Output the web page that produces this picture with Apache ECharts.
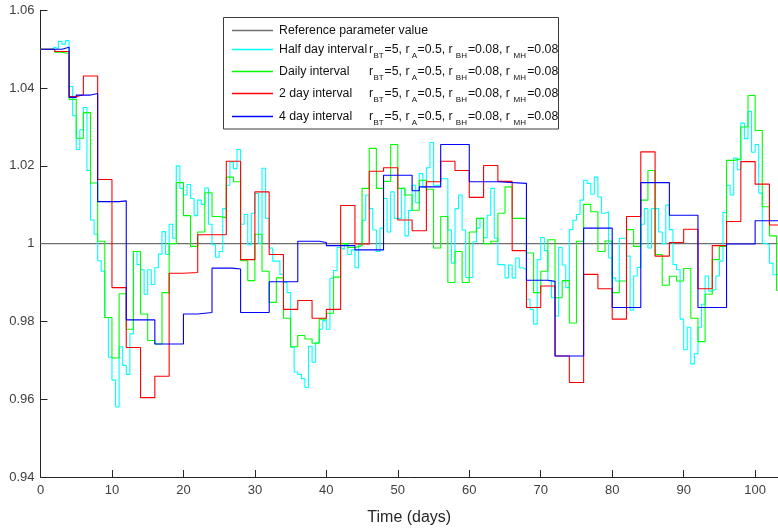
<!DOCTYPE html>
<html>
<head>
<meta charset="utf-8">
<script src="https://cdn.jsdelivr.net/npm/echarts@6.0.0/dist/echarts.min.js"></script>
<style>
  html, body { margin: 0; padding: 0; background: #fff; }
  #chart { width: 778px; height: 531px; }
</style>
</head>
<body>
<div id="chart"></div>
<script>
// Estimated parameter traces (stairs), value held from each time until the next.
const REFERENCE_VALUE = 1;
const T_END = 103.2;

// Half day interval: one value every 0.5 day starting at t = 0
const halfDayValues = [
  1.05, 1.05, 1.05, 1.0505, 1.0501, 1.052, 1.0513, 1.0522, 1.0404, 1.0329,
  1.0242, 1.0293, 1.035, 1.0188, 1.0061, 1.0024, 0.9956, 0.9929, 0.981, 0.9708,
  0.9649, 0.958, 0.9735, 0.9687, 0.9664, 0.9768, 0.998, 0.9946, 0.9933, 0.987,
  0.9933, 0.9895, 0.9938, 0.9973, 1.0031, 0.9972, 1.005, 1.0014, 1.02, 1.0142,
  1.0125, 1.0152, 1.0116, 1.0072, 1.0112, 1.0101, 1.0143, 1.005, 0.9997, 0.9965,
  0.998, 1.009, 1.015, 1.021, 1.0193, 1.0242, 1.005, 1.0075, 0.9997, 1.0078,
  1.0129, 1.0001, 1.0194, 1.0065, 0.9989, 0.9955, 0.9955, 0.9921, 0.990, 0.9874,
  0.9734, 0.967, 0.9664, 0.9653, 0.963, 0.9736, 0.9695, 0.9745, 0.978, 0.9802,
  0.978, 0.9911, 0.9931, 0.999,
  0.9985, 0.9997, 0.9972, 0.9984, 0.9938, 0.9997, 1.006, 1.0125, 1.009, 1.0035,
  0.998, 1.004, 1.0116, 1.003, 1.0133, 1.0065, 1.0065, 1.0142, 1.002, 1.0085,
  1.015, 1.0105, 1.018, 1.0145, 1.0195, 1.026, 1.015, 1.015, 1.0167, 1.0167,
  1.0035, 0.995, 1.009, 1.0125, 1.0035, 0.9913, 0.9913, 1.0005, 1.004, 1.0065,
  1.0015, 1.0073, 1.0142, 1.0014, 0.9946, 0.9946, 0.9912, 0.9945, 0.9912, 0.9963,
  0.9938, 0.9933, 0.9857, 0.9831, 0.9793, 0.9959, 1.0016, 0.9982, 0.9905, 0.9861,
  0.9814, 0.999, 0.9945, 0.9887, 1.0036, 1.006, 1.0075, 1.0112, 1.0163, 1.0155,
  1.0127, 1.0171, 1.012, 1.0078, 1.0082, 0.9963, 0.9912, 0.9904, 1.0014, 1.0014,
  0.9968, 0.9829, 0.9917, 0.9939, 1.005, 1.009, 0.9989, 1.009, 1.009, 1.003,
  1.0, 1.0099, 1.0036, 0.9946, 0.9933, 0.9806, 0.9727, 0.9785, 0.9691, 0.9717,
  0.9785, 0.9844, 0.9917, 0.9878, 0.9883, 0.9917, 0.9955, 1.008, 1.015, 1.0125,
  1.022, 1.019, 1.031, 1.027, 1.034, 1.0235, 1.0255, 1.013, 1.0001, 0.9997,
  0.995, 0.992, 0.992
];

// Daily interval: one value per day starting at t = 0
const dailyValues = [
  1.05, 1.05, 1.0492, 1.0489, 1.0371, 1.0271, 1.0337, 1.0156, 1.0006, 0.981,
  0.9706, 0.9871, 0.978, 0.998, 0.9819, 0.9751, 0.9742, 0.9874, 1.0, 1.0157,
  1.0072, 0.9993, 1.003, 1.0131, 1.007, 1.0067, 1.0171, 1.0159, 0.9956, 0.9905,
  1.0024, 0.9929, 0.9849, 0.9912, 0.9808, 0.9735, 0.9764, 0.9755, 0.9744, 0.9806,
  0.9821, 0.9914, 1.0, 0.999, 0.9995, 1.0142, 1.0245, 1.0142, 1.016, 1.0255,
  1.0142, 1.0125, 1.0086, 1.0163, 1.014, 0.9989, 1.007, 0.99, 0.998, 0.99,
  1.003, 1.0065, 1.0, 1.0006, 1.0078, 1.0146, 1.0065, 1.0065, 0.9976, 0.9874,
  0.9929, 1.001, 0.9861, 0.9905, 0.9796, 1.0006, 1.0101, 1.0082, 0.998, 1.0007,
  0.9874, 0.9904, 1.0036, 0.9993, 1.0112, 1.0188, 0.9972, 0.9893, 0.9916, 0.9904,
  0.9936, 0.9808, 0.9748, 0.987, 0.9959, 0.9993, 1.0214, 1.0218, 1.03, 1.0381,
  1.0291, 1.0095, 1.002, 0.988
];

// 2 day interval: change times and values
const twoDayTimes = [
  0, 2, 4, 5, 6, 8, 10, 12, 14, 16, 18, 20, 22, 26, 28, 30, 32, 34, 36, 38,
  40, 42, 44, 46, 48, 50, 52, 54, 56, 58, 60, 62, 64, 66, 68, 70, 72, 74, 76, 78,
  80, 82, 84, 86, 88, 90, 92, 94, 96, 98, 100, 102
];
const twoDayValues = [
  1.05, 1.0494, 1.0378, 1.0383, 1.0431, 1.0165, 0.9887, 0.9733, 0.9604, 0.9659,
  0.9924, 0.9926, 1.0023, 1.0212, 0.9959, 1.0133, 0.9972, 0.9831, 0.9854, 0.9808,
  0.9831, 1.0098, 0.9999, 1.0186, 1.0195, 1.0061, 1.0033, 1.0159, 1.0212, 1.0188,
  1.0119, 1.0201, 1.016, 0.9982, 0.9836, 0.9891, 0.9711, 0.9643, 0.9921, 0.9884,
  0.9806, 1.007, 1.0236, 0.9968, 1.0003, 1.0037, 0.9884, 0.9995, 1.0057, 1.0211,
  1.0153, 1.0048
];

// 4 day interval: change times and values
const fourDayTimes = [
  0, 3, 4, 5, 7, 8, 11, 12, 16, 20, 22, 24, 26.8, 28, 32, 36, 39, 40, 44, 48,
  52, 53, 56, 60, 64, 68, 71, 72, 76, 80, 84, 88, 92, 96, 100
];
const fourDayValues = [
  1.05, 1.0505, 1.0376, 1.0382, 1.0386, 1.0108, 1.011, 0.9804, 0.9742, 0.9819,
  0.9823, 0.9937, 0.9935, 0.9823, 0.9902, 1.0006, 1.0003, 0.9995, 0.9984, 1.0176,
  1.0136, 1.0146, 1.0255, 1.0159, 1.0155, 0.9906, 0.9903, 0.9711, 1.004, 0.9836,
  1.0157, 1.0073, 0.9836, 0.9999, 1.0059
];

const seriesNames = [
  'Reference parameter value',
  'Half day interval',
  'Daily interval',
  '2 day interval',
  '4 day interval'
];
const seriesColors = ['#6f6f6f', '#00ffff', '#00ff00', '#ff0000', '#0000ff'];
const paramKeys = ['BT', 'A', 'BH', 'MH'];
const paramValues = ['5', '0.5', '0.08', '0.08'];

const yTicks = [0.94, 0.96, 0.98, 1, 1.02, 1.04, 1.06];

function stairsFromGrid(values, step) {
  const pts = values.map((v, i) => [i * step, v]);
  pts.push([T_END, values[values.length - 1]]);
  return pts;
}
function stairsFromTimes(times, values) {
  const pts = times.map((t, i) => [t, values[i]]);
  pts.push([T_END, values[values.length - 1]]);
  return pts;
}

const seriesData = [
  [[0, REFERENCE_VALUE], [T_END, REFERENCE_VALUE]],
  stairsFromGrid(halfDayValues, 0.5),
  stairsFromGrid(dailyValues, 1),
  stairsFromTimes(twoDayTimes, twoDayValues),
  stairsFromTimes(fourDayTimes, fourDayValues)
];

const FONT_FAMILY = '"Liberation Sans", Arial, Helvetica, sans-serif';
const MAIN_SIZE = 12.3;
const SUB_SIZE = 8;

// ---- legend box, built as graphic elements (TeX-like subscripts) ----
const measureCtx = document.createElement('canvas').getContext('2d');
function textWidth(str, size) {
  measureCtx.font = size + 'px ' + FONT_FAMILY;
  return measureCtx.measureText(str).width;
}

const LEG = { x: 223.5, y: 17.5, w: 335, h: 111.5, lineX0: 232, lineX1: 273, textX: 279,
              paramX0: 369, paramX1: 561, rows: [30, 49, 71, 93, 116] };

function paramPieces() {
  const pieces = [];
  paramKeys.forEach((k, i) => {
    pieces.push({ text: i ? ', r' : 'r', sub: false });
    pieces.push({ text: k, sub: true });
    pieces.push({ text: '=' + paramValues[i], sub: false });
  });
  // merge "=value" with the following ", r"
  const merged = [];
  pieces.forEach(p => {
    const last = merged[merged.length - 1];
    if (last && !last.sub && !p.sub) last.text += p.text;
    else merged.push({ ...p });
  });
  return merged;
}

function textEl(str, x, y, size) {
  return {
    type: 'text', silent: true, z: 100,
    style: {
      text: str, x: x, y: y, fill: '#111111',
      font: size + 'px ' + FONT_FAMILY,
      textAlign: 'left', textVerticalAlign: 'middle'
    }
  };
}

function buildLegend() {
  const els = [{
    type: 'rect', silent: true, z: 99,
    shape: { x: LEG.x, y: LEG.y, width: LEG.w, height: LEG.h },
    style: { fill: '#ffffff', stroke: '#3c3c3c', lineWidth: 1 }
  }];
  const pieces = paramPieces();
  const widths = pieces.map(p => textWidth(p.text, p.sub ? SUB_SIZE : MAIN_SIZE));
  const natural = widths.reduce((a, b) => a + b, 0);
  const scale = (LEG.paramX1 - LEG.paramX0) / natural;
  seriesNames.forEach((name, i) => {
    const y = LEG.rows[i];
    els.push({
      type: 'line', silent: true, z: 100,
      shape: { x1: LEG.lineX0, y1: y + 0.5, x2: LEG.lineX1, y2: y + 0.5 },
      style: { stroke: seriesColors[i], lineWidth: 1.3 }
    });
    els.push(textEl(name, LEG.textX, y + 0.5, MAIN_SIZE));
    if (i > 0) {
      let x = LEG.paramX0;
      pieces.forEach((p, j) => {
        els.push(textEl(p.text, x, p.sub ? y + 6.5 : y + 0.5, p.sub ? SUB_SIZE : MAIN_SIZE));
        x += widths[j] * scale;
      });
    }
  });
  return els;
}

const chart = echarts.init(document.getElementById('chart'), null, { renderer: 'canvas' });

chart.setOption({
  animation: false,
  backgroundColor: '#ffffff',
  grid: { left: 40.5, top: 10.3, right: 0, bottom: 50.5, containLabel: false },
  xAxis: {
    type: 'value',
    min: 0,
    max: T_END,
    interval: 10,
    name: 'Time (days)',
    nameLocation: 'middle',
    nameGap: 33,
    nameTextStyle: { fontFamily: FONT_FAMILY, fontSize: 16, color: '#262626' },
    axisLine: { show: true, lineStyle: { color: '#262626', width: 1 } },
    axisTick: { show: true, inside: true, length: 7, lineStyle: { color: '#262626' } },
    axisLabel: {
      fontFamily: FONT_FAMILY, fontSize: 13, color: '#404040', margin: 7,
      showMaxLabel: false
    },
    splitLine: { show: false }
  },
  yAxis: {
    type: 'value',
    min: yTicks[0],
    max: yTicks[yTicks.length - 1],
    interval: 0.02,
    axisLine: { show: true, lineStyle: { color: '#262626', width: 1 } },
    axisTick: { show: true, inside: true, length: 7, lineStyle: { color: '#262626' } },
    axisLabel: {
      fontFamily: FONT_FAMILY, fontSize: 13, color: '#404040', margin: 6,
      formatter: v => String(+v.toFixed(2))
    },
    splitLine: { show: false }
  },
  graphic: buildLegend(),
  series: seriesNames.map((name, i) => ({
    name: name,
    type: 'line',
    step: 'end',
    data: seriesData[i],
    symbol: 'none',
    showSymbol: false,
    color: seriesColors[i],
    lineStyle: { color: seriesColors[i], width: 1.1 },
    z: 2 + i,
    silent: true
  }))
});
</script>
</body>
</html>
